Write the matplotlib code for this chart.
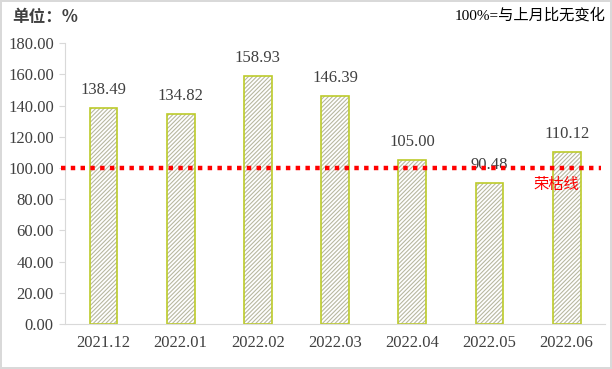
import matplotlib.pyplot as plt
import numpy as np

months = ["2021.12", "2022.01", "2022.02", "2022.03", "2022.04", "2022.05", "2022.06"]
values = [138.49, 134.82, 158.93, 146.39, 105.00, 90.48, 110.12]
y_ticks = [0, 20, 40, 60, 80, 100, 120, 140, 160, 180]
baseline = 100

serif = ["Liberation Serif", "Noto Sans CJK SC"]
cjk = ["Noto Sans CJK SC", "DejaVu Sans"]
text_color = "#404040"

plt.rcParams["hatch.linewidth"] = 0.8

fig = plt.figure(figsize=(6.12, 3.69), dpi=100)
fig.patch.set_edgecolor("#d9d9d9")
fig.patch.set_linewidth(1.5)
ax = fig.add_axes([0.106, 0.122, 0.883, 0.761])

x = np.arange(len(months))
ax.bar(x, values, width=0.36, color="white", edgecolor="#b8b8a0",
       hatch="////////", linewidth=0)
ax.bar(x, values, width=0.36, fill=False, edgecolor="#bccb2a", linewidth=1.2)

for xi, v in zip(x, values):
    ax.annotate(f"{v:.2f}", (xi, v), xytext=(0, 7), textcoords="offset points",
                ha="center", va="bottom", fontsize=12, family=serif,
                color=text_color)

ax.plot([-0.55, 6.45], [baseline, baseline], color="#ff0000", linewidth=3.2,
        linestyle=(0, (1, 1.2)), clip_on=False, zorder=5)
ax.text(5.86, baseline - 5, "荣枯线", color="#ff0000", fontsize=11,
        family=cjk, ha="center", va="top", zorder=6)

ax.set_xlim(-0.5, 6.5)
ax.set_ylim(0, 180)
ax.set_yticks(y_ticks)
ax.set_yticklabels([f"{t:.2f}" for t in y_ticks], family=serif,
                   fontsize=12, color=text_color)
ax.set_xticks(x)
ax.set_xticklabels(months, family=serif, fontsize=12, color=text_color)
ax.tick_params(axis="x", length=0, pad=8)
ax.tick_params(axis="y", length=4, color="#d9d9d9", pad=4)

for side in ["top", "right"]:
    ax.spines[side].set_visible(False)
ax.spines["left"].set_color("#d9d9d9")
ax.spines["bottom"].set_color("#d9d9d9")

fig.text(0.02, 0.955, "单位：%", family=cjk, fontsize=12, fontweight="bold",
         color=text_color, va="center")
fig.text(0.99, 0.958, "100%=与上月比无变化", family=serif, fontsize=11,
         color="black", ha="right", va="center")

fig.savefig("out.png", dpi=100)
